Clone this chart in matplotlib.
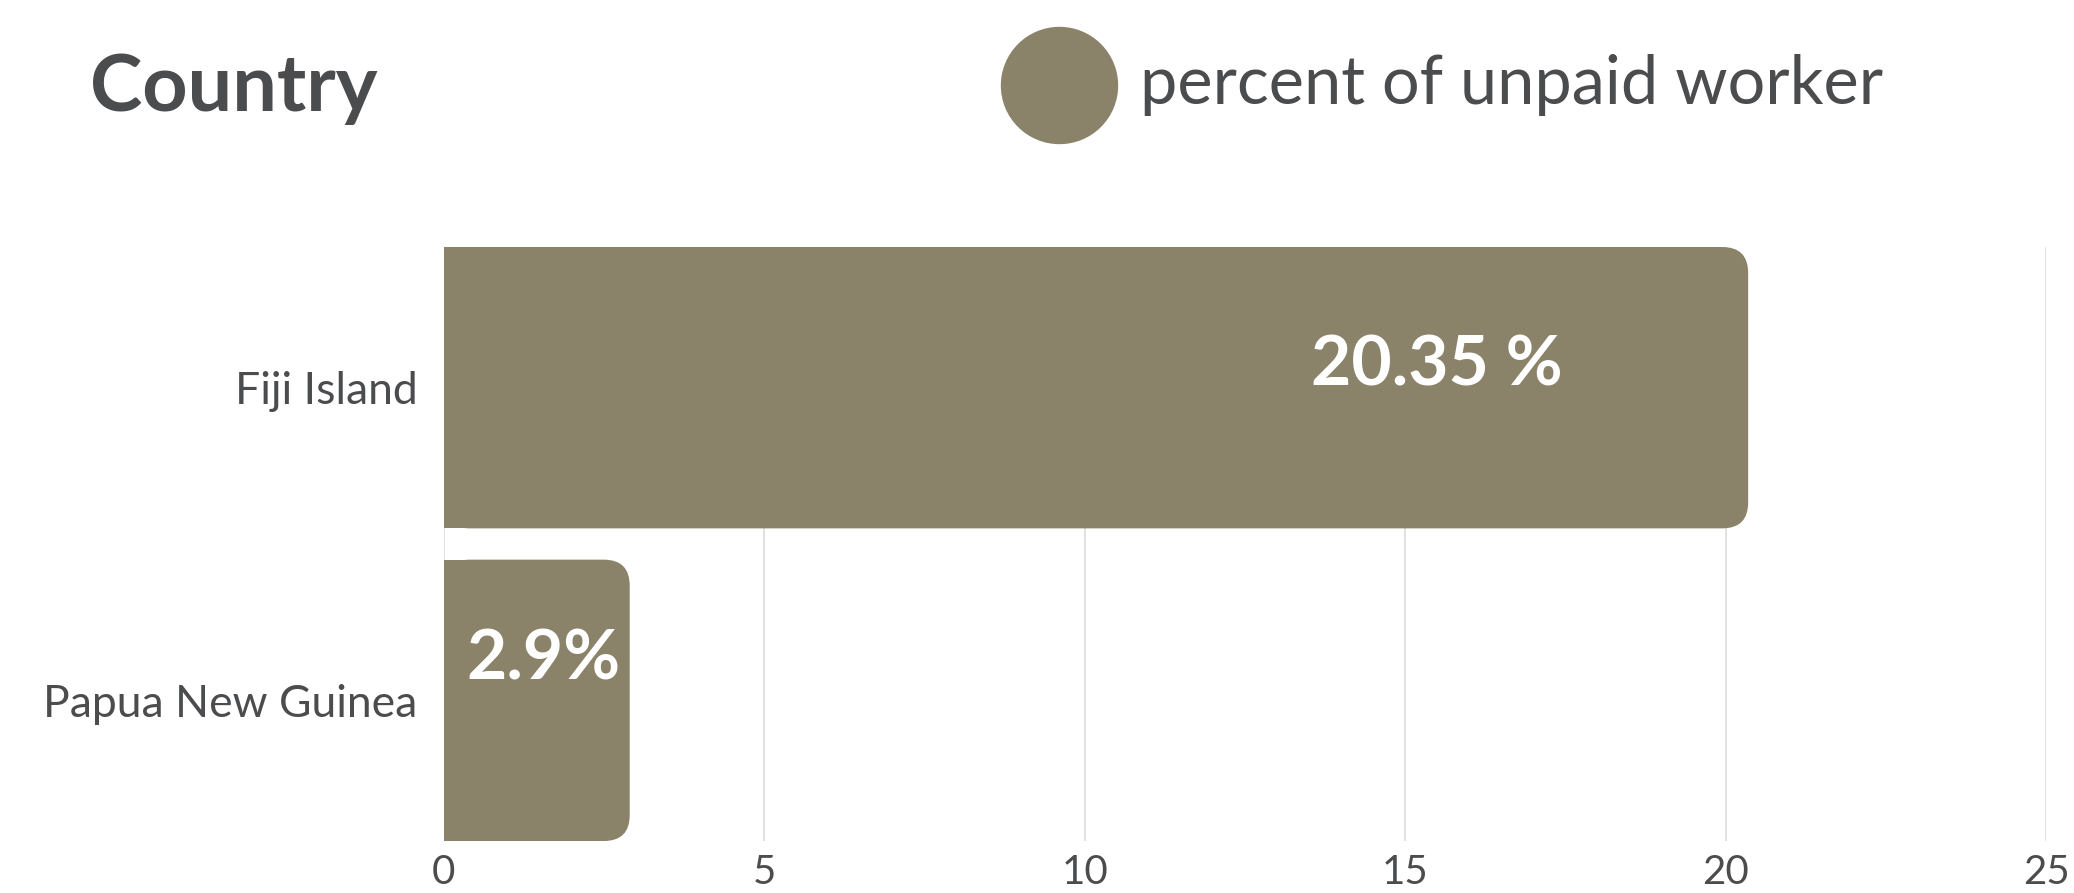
import matplotlib.pyplot as plt
from matplotlib.patches import FancyBboxPatch, Rectangle
from matplotlib.lines import Line2D

# Data
countries = ['Fiji Island', 'Papua New Guinea']
unpaid_pct = [20.35, 2.9]
value_labels = ['20.35 %', '2.9%']
x_ticks = [0, 5, 10, 15, 20, 25]

# Styling
bar_color = '#8a836a'
text_color = '#4b4c4e'
grid_color = '#dcdcdc'
label_x = [15.5, 1.55]        # centre of value label (data units)
label_dy = [-0.07, -0.13]     # shift above bar centre
bar_h = 0.9

plt.rcParams['font.family'] = ['Lato', 'DejaVu Sans']

fig = plt.figure(figsize=(20.74, 8.93), dpi=100)
fig.patch.set_facecolor('white')
ax = fig.add_axes([0.214, 0.0582, 0.7726, 0.6652])
ax.set_facecolor('none')

ax.set_xlim(0, 25)
ax.set_ylim(len(countries) - 0.5 - (1 - bar_h) / 2, -0.5 + (1 - bar_h) / 2)

# gridlines
for t in x_ticks:
    ax.axvline(t, color=grid_color, lw=1.2, zorder=0)

# rounded bars (right corners only)
px_x = 0.7726 * 2074 / 25
px_y = 0.6652 * 893 / (len(countries) - (1 - bar_h))
r_px = 26
rx = r_px / px_x
ry = r_px / px_y
for i, v in enumerate(unpaid_pct):
    y0 = i - bar_h / 2
    ax.add_patch(FancyBboxPatch((0, y0), v, bar_h,
                                boxstyle=f'round,pad=0,rounding_size={rx}',
                                mutation_aspect=ry / rx,
                                fc=bar_color, ec='none', zorder=2))
    ax.add_patch(Rectangle((0, y0), v - rx, bar_h, fc=bar_color, ec='none', zorder=2))
    ax.text(label_x[i], i + label_dy[i], value_labels[i], color='white',
            fontsize=50, fontweight='bold', ha='center', va='center', zorder=3)

ax.set_yticks(range(len(countries)))
ax.set_yticklabels(countries)
ax.set_xticks(x_ticks)
ax.tick_params(axis='both', length=0, labelsize=32, labelcolor=text_color)
ax.tick_params(axis='y', pad=19)
ax.tick_params(axis='x', pad=9, labelsize=29)
for s in ax.spines.values():
    s.set_visible(False)

# title and legend
fig.text(0.0434, 0.9, 'Country', fontsize=57, fontweight='bold',
         color=text_color, ha='left', va='center')
fig.add_artist(Line2D([0.5106], [0.9048], marker='o', markersize=83.5,
                      color=bar_color, transform=fig.transFigure))
fig.text(0.5497, 0.9048, 'percent of unpaid worker', fontsize=48,
         color=text_color, ha='left', va='center')

fig.savefig('out.png', dpi=100)
